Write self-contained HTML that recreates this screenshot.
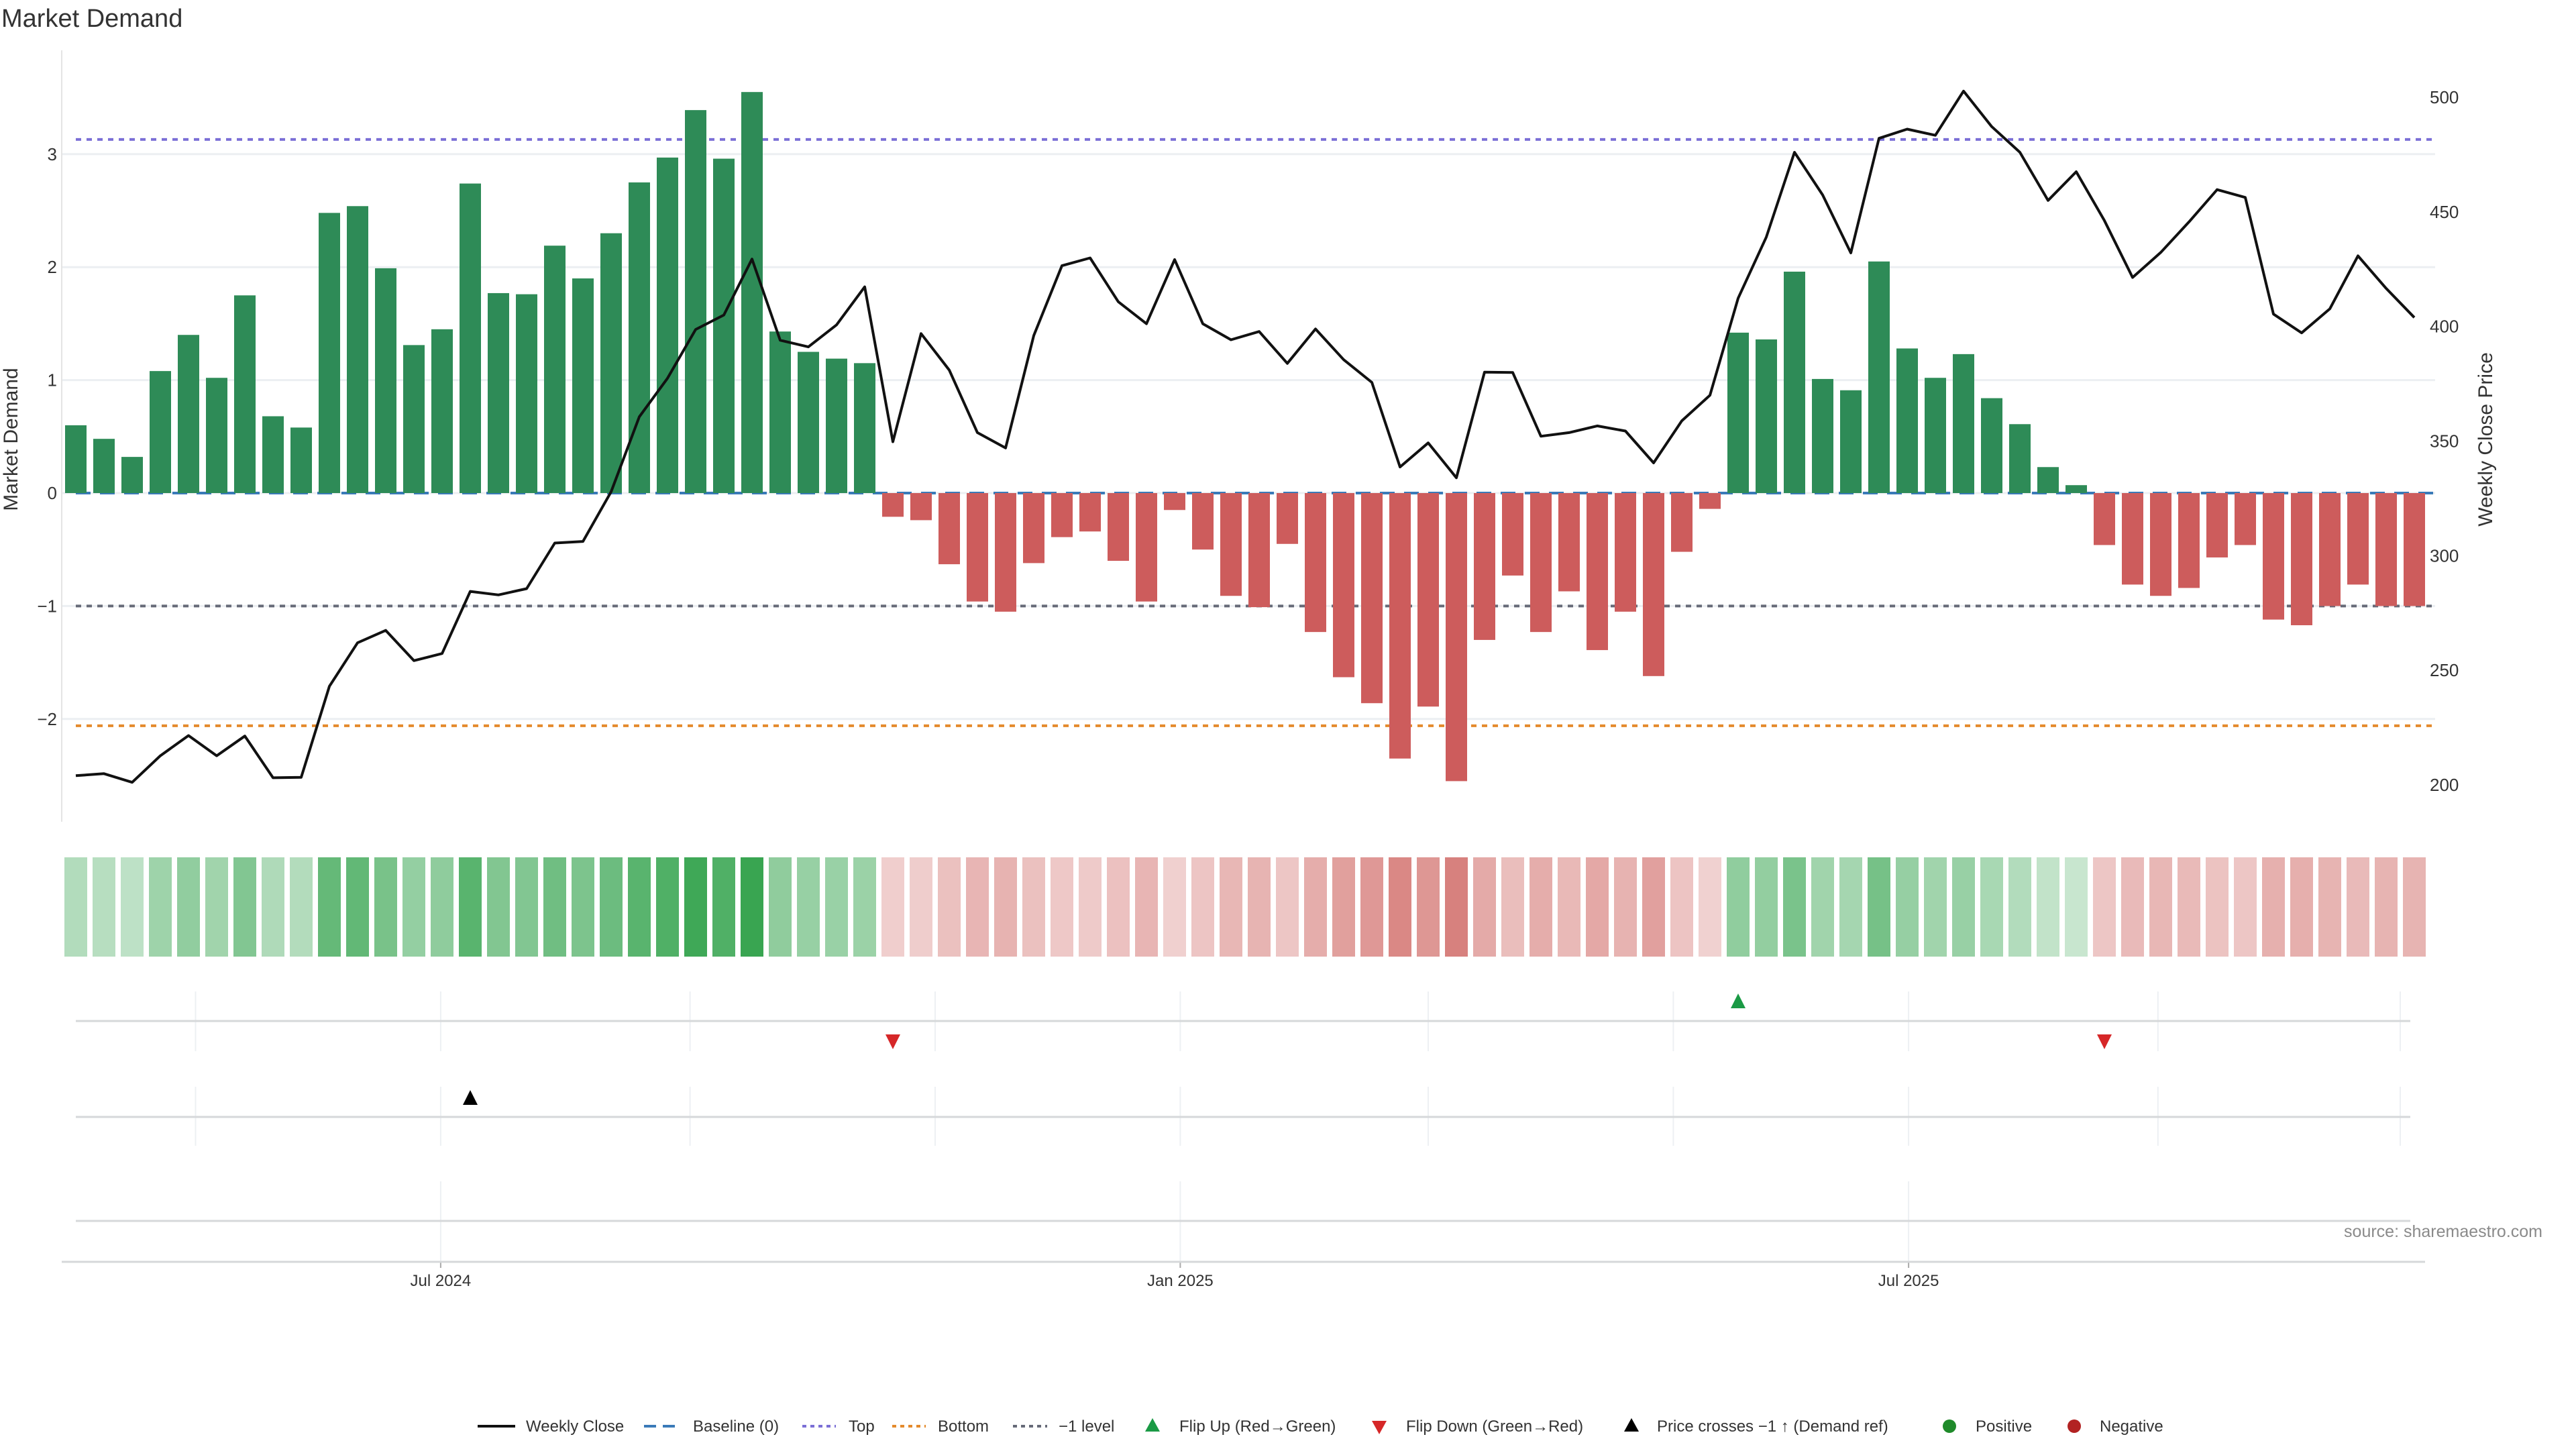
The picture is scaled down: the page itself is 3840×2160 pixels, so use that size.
<!DOCTYPE html>
<html><head><meta charset="utf-8"><style>
html,body{margin:0;padding:0;background:#fff;}
svg{display:block;font-family:"Liberation Sans","DejaVu Sans",sans-serif;}
</style></head><body>
<svg id="chart" width="3840" height="2160" viewBox="0 0 3840 2160" xmlns="http://www.w3.org/2000/svg">
<text x="2" y="40" font-size="38" fill="#333">Market Demand</text>
<text transform="translate(26,655) rotate(-90)" text-anchor="middle" font-size="30" fill="#333">Market Demand</text>
<text transform="translate(3715,655) rotate(-90)" text-anchor="middle" font-size="30" fill="#333">Weekly Close Price</text>
<text x="3790" y="1844" text-anchor="end" font-size="25" fill="#8a8a8a">source: sharemaestro.com</text>
<g id="grid"></g><g id="refs"></g><g id="bars"></g><g id="line"></g><g id="heat"></g><g id="panels"></g><g id="axes"></g><g id="legend"></g>
</svg>
<script>
const demand=[0.60,0.48,0.32,1.08,1.40,1.02,1.75,0.68,0.58,2.48,2.54,1.99,1.31,1.45,2.74,1.77,1.76,2.19,1.90,2.30,2.75,2.97,3.39,2.96,3.55,1.43,1.25,1.19,1.15,
-0.21,-0.24,-0.63,-0.96,-1.05,-0.62,-0.39,-0.34,-0.60,-0.96,-0.15,-0.50,-0.91,-1.01,-0.45,-1.23,-1.63,-1.86,-2.35,-1.89,-2.55,-1.30,-0.73,-1.23,-0.87,-1.39,-1.05,-1.62,-0.52,-0.14,
1.42,1.36,1.96,1.01,0.91,2.05,1.28,1.02,1.23,0.84,0.61,0.23,0.07,
-0.46,-0.81,-0.91,-0.84,-0.57,-0.46,-1.12,-1.17,-1.00,-0.81,-1.00,-1.00];
const price=[204.0,204.9,201.1,212.7,221.5,212.7,221.3,203.1,203.3,243.0,262.0,267.4,254.2,257.3,284.4,282.9,285.6,305.5,306.2,327.9,360.6,377.4,398.7,405.0,429.4,394.0,391.1,400.7,417.3,
349.7,396.9,381.0,353.7,347.0,396.0,426.5,429.9,410.8,401.2,429.2,401.2,394.2,397.8,383.9,398.9,385.5,375.6,338.7,349.2,334.0,380.1,379.9,352.1,353.7,356.6,354.4,340.5,358.8,370.0,
412.3,439.0,476.0,457.4,432.1,482.1,486.1,483.4,502.7,487.2,476.0,455.0,467.5,446.2,421.4,432.3,445.6,459.7,456.3,405.4,397.2,407.7,430.8,416.6,403.9];
const leftTicks=[3,2,1,0,-1,-2];
const rightTicks=[500,450,400,350,300,250,200];
const refLevels=[3.13,0,-1,-2.06];
const flipUpIdx=[59];
const flipDownIdx=[29,72];
const crossIdx=[14];
const dateTicks=["Jul 2024","Jan 2025","Jul 2025"];
const dateTickIdx=[12.95,39.2,65.05];
const minorGridIdx=[4.25,12.95,21.8,30.5,39.2,48.0,56.7,65.05,73.9,82.5];
</script>
<script>
const NS="http://www.w3.org/2000/svg";
function mk(tag,attrs,parent){const e=document.createElementNS(NS,tag);for(const k in attrs)e.setAttribute(k,attrs[k]);parent.appendChild(e);return e;}
const X0=113,STEP=(3599-113)/83,BW=32;
const xs=i=>X0+i*STEP;
const yL=v=>735-v*168.4;
const yR=p=>145+(500-p)*(1025/300);
const PL=92,PR=3615;
const grid=document.getElementById('grid'),refs=document.getElementById('refs'),bars=document.getElementById('bars'),
 line=document.getElementById('line'),heat=document.getElementById('heat'),panels=document.getElementById('panels'),
 axes=document.getElementById('axes'),legend=document.getElementById('legend');
leftTicks.forEach(t=>{
 const g=mk('line',{x1:PL,x2:3630,y1:yL(t),y2:yL(t),stroke:'#eceff2','stroke-width':3},grid);
 
 
 const tx=mk('text',{x:85,y:yL(t)+9,'text-anchor':'end','font-size':26,fill:'#333'},axes);
 tx.textContent=t<0?'\u2212'+Math.abs(t):String(t);
 
 
});
rightTicks.forEach(t=>{
 const tx=mk('text',{x:3622,y:yR(t)+9,'font-size':26,fill:'#333'},axes);
 tx.textContent=String(t);
 
 
});
mk('line',{x1:PL,x2:PL,y1:75,y2:1225,stroke:'#e4e4e4','stroke-width':2},axes);
demand.forEach((v,i)=>{
 const y0=yL(0),y1=yL(v);
 const r=mk('rect',{x:xs(i)-BW/2,y:Math.min(y0,y1),width:BW,height:Math.abs(y1-y0),fill:v>=0?'#2e8b57':'#cd5c5c'},bars);
 
 
});
const refStyles=[['#7b6fd6','8,8','top-line'],['#3a7ab8','22,14','baseline-line'],['#666a78','8,8','minus-one-line'],['#e48a2c','8,8','bottom-line']];
refLevels.forEach((v,k)=>{
 const l=mk('line',{x1:113,x2:3630,y1:yL(v),y2:yL(v),stroke:refStyles[k][0],'stroke-width':4,'stroke-dasharray':refStyles[k][1]},refs);
 
 
});
const pl=mk('polyline',{points:price.map((p,i)=>xs(i).toFixed(1)+','+yR(p).toFixed(1)).join(' '),fill:'none',stroke:'#111','stroke-width':4,'stroke-linejoin':'round'},line);


demand.forEach((v,i)=>{
 const a=0.25+0.7*Math.abs(v)/3.55;
 const r=mk('rect',{x:xs(i)-17,y:1278,width:34,height:148,fill:v>=0?`rgba(46,160,72,${a})`:`rgba(205,96,92,${a*1.05})`},heat);
 
 
});
minorGridIdx.forEach(g=>{
 mk('line',{x1:xs(g),x2:xs(g),y1:1478,y2:1567,stroke:'#edf0f3','stroke-width':2},panels);
 mk('line',{x1:xs(g),x2:xs(g),y1:1620,y2:1708,stroke:'#edf0f3','stroke-width':2},panels);
});
dateTickIdx.forEach((g,k)=>{
 mk('line',{x1:xs(g),x2:xs(g),y1:1761,y2:1880,stroke:'#edf0f3','stroke-width':2},panels);
 mk('line',{x1:xs(g),x2:xs(g),y1:1881,y2:1890,stroke:'#aaa','stroke-width':2},axes);
 const t=mk('text',{x:xs(g),y:1934-17,'text-anchor':'middle','font-size':24,fill:'#333'},axes);
 t.textContent=dateTicks[k];
 
 
});
[1522,1665,1820].forEach(y=>{mk('line',{x1:113,x2:3593,y1:y,y2:y,stroke:'#d6d8da','stroke-width':3},panels);});
mk('line',{x1:PL,x2:PR,y1:1881,y2:1881,stroke:'#d6d8da','stroke-width':3},axes);
function tri(cx,cy,up,col,name){
 const p=up?`${cx-11},${cy+10} ${cx+11},${cy+10} ${cx},${cy-12}`:`${cx-11},${cy-10} ${cx+11},${cy-10} ${cx},${cy+12}`;
 const t=mk('polygon',{points:p,fill:col},panels);
 
 
}
flipUpIdx.forEach(i=>tri(xs(i),1493,true,'#1a9a45','flip-up-marker'));
flipDownIdx.forEach(i=>tri(xs(i),1552,false,'#d62728','flip-down-marker'));
crossIdx.forEach(i=>tri(xs(i),1637,true,'#000','price-cross-marker'));
const L=2146-20;
function ltext(x,s,name){const t=mk('text',{x:x,y:L+8,'font-size':24,fill:'#333'},legend);t.textContent=s;}
mk('line',{x1:712,x2:768,y1:L,y2:L,stroke:'#111','stroke-width':4},legend);ltext(784,'Weekly Close','legend-weekly-close');
mk('line',{x1:960,x2:1014,y1:L,y2:L,stroke:'#3a7ab8','stroke-width':4,'stroke-dasharray':'18,10'},legend);ltext(1033,'Baseline (0)','legend-baseline');
mk('line',{x1:1196,x2:1246,y1:L,y2:L,stroke:'#7b6fd6','stroke-width':4,'stroke-dasharray':'6,6'},legend);ltext(1265,'Top','legend-top');
mk('line',{x1:1330,x2:1380,y1:L,y2:L,stroke:'#e48a2c','stroke-width':4,'stroke-dasharray':'6,6'},legend);ltext(1398,'Bottom','legend-bottom');
mk('line',{x1:1510,x2:1561,y1:L,y2:L,stroke:'#666a78','stroke-width':4,'stroke-dasharray':'6,6'},legend);ltext(1578,'\u22121 level','legend-minus-one');
mk('polygon',{points:`1707,${L+8} 1729,${L+8} 1718,${L-12}`,fill:'#1a9a45'},legend);ltext(1758,'Flip Up (Red\u2192Green)','legend-flip-up');
mk('polygon',{points:`2045,${L-8} 2067,${L-8} 2056,${L+12}`,fill:'#d62728'},legend);ltext(2096,'Flip Down (Green\u2192Red)','legend-flip-down');
mk('polygon',{points:`2421,${L+8} 2443,${L+8} 2432,${L-12}`,fill:'#000'},legend);ltext(2470,'Price crosses \u22121 \u2191 (Demand ref)','legend-price-cross');
mk('circle',{cx:2906,cy:L,r:10,fill:'#1f8a2a'},legend);ltext(2945,'Positive','legend-positive');
mk('circle',{cx:3092,cy:L,r:10,fill:'#b22222'},legend);ltext(3130,'Negative','legend-negative');
</script>
</body></html>
